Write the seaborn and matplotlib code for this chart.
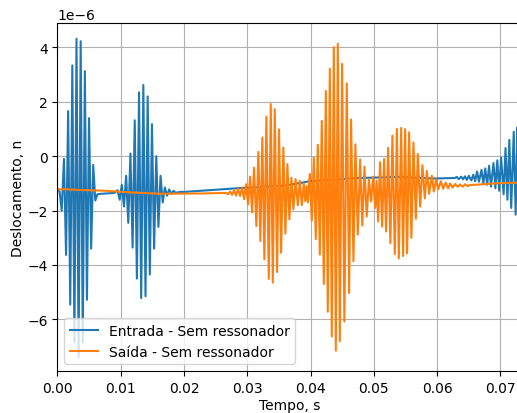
"""Displacement vs time: input and output signals without resonator."""

import matplotlib

matplotlib.use("Agg")
import matplotlib.pyplot as plt
import numpy as np
import seaborn as sns

# time in milliseconds, displacement in micro-units (x 1e-6)
entrada_ms = [
    0.00, 0.35, 0.68, 1.04, 1.37, 1.70, 2.03, 2.36, 2.69, 3.02, 3.35, 3.68, 4.01, 4.34,
    4.67, 5.00, 5.33, 5.66, 5.99, 6.32, 7.00, 9.00,
    9.50, 9.84, 10.18, 10.52, 10.86, 11.20, 11.54, 11.88, 12.22, 12.56, 12.90, 13.24,
    13.58, 13.92, 14.26, 14.60, 14.94, 15.28, 15.62, 15.96, 16.30, 16.64,
    16.98, 17.32, 17.66, 18.00, 18.34, 18.68, 19.50, 20.20, 28.90, 35.70, 39.90, 47.80,
    54.10, 59.40, 62.80,
    63.10, 63.40, 63.80, 64.10, 64.40, 64.70, 65.00, 65.40, 65.70, 66.00, 66.30, 66.60,
    67.00, 67.30, 67.60, 67.90, 68.20, 68.50, 68.90, 69.20, 69.50, 69.80, 70.10, 70.50,
    70.80, 71.10, 71.40, 71.70, 72.10, 72.40, 72.70, 73.00, 73.30,
]
entrada_um = [
    -1.21, -1.30, -2.00, -0.10, -3.63, 1.66, -5.46, 3.34, -6.85, 4.32, -7.40, 4.23, -6.85, 3.13,
    -5.28, 1.40, -3.40, -0.32, -1.63, -1.40, -1.38, -1.35,
    -1.25, -1.60, -1.05, -1.85, -0.72, -2.45, 0.10, -3.36, 1.32, -4.50, 2.35, -5.22,
    2.62, -5.15, 2.20, -4.35, 1.18, -3.40, 0.00, -2.60, -0.72, -1.70,
    -1.15, -1.45, -1.22, -1.38, -1.27, -1.34, -1.31, -1.31, -1.17, -1.09, -0.92, -0.80,
    -0.76, -0.82, -0.80,
    -0.76, -0.84, -0.75, -0.85, -0.74, -0.87, -0.72, -0.89, -0.68, -0.92, -0.56, -0.94,
    -0.50, -1.00, -0.45, -1.05, -0.35, -1.12, -0.25, -1.18, -0.15, -1.27, -0.05, -1.40,
    0.30, -1.60, 0.60, -1.90, 0.90, -2.15, 1.07, -2.25, 1.10,
]

saida_ms = [
    0.00, 7.50, 11.50, 16.20, 22.50, 26.65,
    26.96, 27.28, 27.60, 27.91, 28.23, 28.54, 28.86, 29.18, 29.49, 29.81, 30.12, 30.44,
    30.76, 31.07, 31.44, 31.75, 32.07, 32.38, 32.70, 33.02, 33.40, 33.71, 34.03, 34.34,
    34.71, 35.02, 35.34, 35.70, 36.02, 36.34, 36.65, 36.97, 37.28,
    37.63, 37.98, 38.29, 38.61, 38.93, 39.16, 39.37, 39.56, 39.88, 40.19, 40.51, 40.82,
    41.14, 41.46, 41.77, 42.09, 42.41, 42.72, 43.04, 43.35, 43.67, 43.99, 44.30, 44.62,
    44.98, 45.34, 45.72, 46.09, 46.40, 46.77, 47.08, 47.46, 47.83,
    48.17, 48.52, 48.87, 49.22, 49.56, 49.88, 50.20, 50.43, 50.67, 50.98, 51.30, 51.62,
    51.93, 52.25, 52.61, 52.93, 53.31, 53.63, 53.94, 54.31, 54.62, 54.94, 55.25, 55.57,
    55.93, 56.25, 56.63, 56.94, 57.31, 57.67, 58.05, 58.37, 58.73, 59.16, 59.47, 59.84,
    60.15, 60.58, 60.94, 61.34, 61.73, 62.05, 62.45, 62.84, 63.24, 63.63, 64.03, 64.42,
    64.82, 65.21, 66.79, 68.37, 69.95, 71.53, 73.43,
]
saida_um = [
    -1.21, -1.27, -1.33, -1.38, -1.37, -1.35,
    -1.40, -1.30, -1.42, -1.25, -1.45, -1.20, -1.46, -1.15, -1.58, -1.03, -1.77, -0.75,
    -2.07, -0.42, -2.57, 0.16, -3.12, 0.69, -3.79, 1.46, -4.51, 1.92, -4.65, 1.73,
    -4.26, 0.99, -3.55, 0.32, -2.85, -0.29, -2.32, -0.79, -1.95,
    -0.84, -1.80, -0.90, -1.80, -1.00, -1.65, -1.10, -1.70, -0.65, -2.37, -0.06, -3.05,
    0.42, -3.62, 1.30, -4.70, 2.40, -5.72, 3.22, -6.63, 4.01, -7.15, 4.14, -6.80,
    3.40, -6.08, 2.68, -5.03, 1.35, -3.86, 0.44, -2.88, -0.12,
    -2.55, -0.39, -2.22, -0.86, -1.66, -0.75, -1.90, -0.90, -2.40, -0.22, -2.59, -0.10,
    -2.77, 0.31, -3.20, 0.76, -3.60, 1.01, -3.76, 1.04, -3.67, 1.00, -3.57, 0.88,
    -3.00, 0.51, -2.30, 0.08, -1.85, -0.33, -1.55, -0.54, -1.38, -0.72, -1.30, -0.84,
    -1.22, -0.92, -1.20, -0.97, -1.18, -1.00, -1.15, -1.02, -1.12, -1.04, -1.12, -1.03,
    -1.10, -1.06, -1.04, -1.01, -0.99, -0.98, -0.97,
]

series_labels = ["Entrada - Sem ressonador", "Saída - Sem ressonador"]
series_colors = ["#1f77b4", "#ff7f0e"]

fig = plt.figure(figsize=(5.17, 4.14), dpi=100)
ax = fig.add_axes([0.111, 0.1014, 0.899, 0.8406])

for t_ms, v_um, label, color in zip(
    [entrada_ms, saida_ms], [entrada_um, saida_um], series_labels, series_colors
):
    t = np.asarray(t_ms) / 1000.0
    v = np.asarray(v_um) * 1e-6
    sns.lineplot(x=t, y=v, ax=ax, label=label, color=color, linewidth=1.5,
                 sort=False, estimator=None)

ax.set_xlim(0, 0.07343)
ax.set_ylim(-7.9e-6, 4.9e-6)
ax.set_xlabel("Tempo, s", labelpad=2.5)
ax.set_ylabel("Deslocamento, n", labelpad=1.5)
ax.grid(True)
ax.legend(loc="lower left")

fig.savefig("out.png", dpi=100)
